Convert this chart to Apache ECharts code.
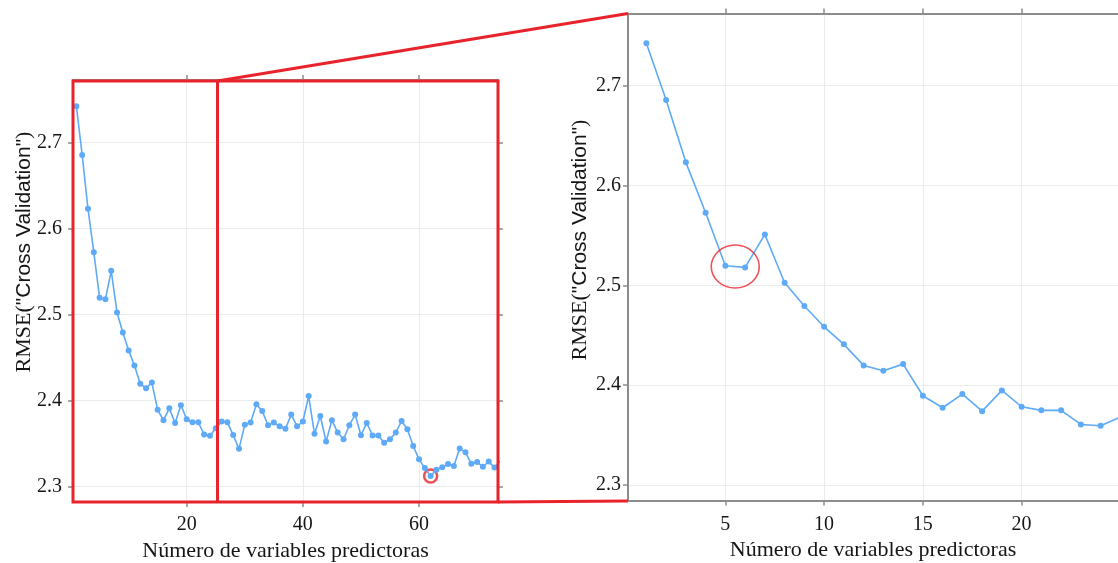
<!DOCTYPE html>
<html lang="es">
<head>
    <meta charset="UTF-8">
    <title>RMSE vs número de variables predictoras</title>
    <script src="https://cdn.jsdelivr.net/npm/echarts@6/dist/echarts.min.js"></script>
    <style>
        html, body { margin: 0; padding: 0; background: #fff; }
        #main { width: 1118px; height: 563px; }
    </style>
</head>
<body>
<div id="main"></div>
<script>
    // numero de variables (eje x) y RMSE de validacion cruzada (eje y)
    var nVars = [1, 2, 3, 4, 5, 6, 7, 8, 9, 10, 11, 12, 13, 14, 15, 16, 17, 18, 19, 20,
        21, 22, 23, 24, 25, 26, 27, 28, 29, 30, 31, 32, 33, 34, 35, 36, 37, 38, 39, 40,
        41, 42, 43, 44, 45, 46, 47, 48, 49, 50, 51, 52, 53, 54, 55, 56, 57, 58, 59, 60,
        61, 62, 63, 64, 65, 66, 67, 68, 69, 70, 71, 72, 73, 74]
    var rmse = [2.7425, 2.6857, 2.6232, 2.5727, 2.5196, 2.5180, 2.5510, 2.5026, 2.4793, 2.4585,
        2.4409, 2.4198, 2.4144, 2.4211, 2.3894, 2.3774, 2.3911, 2.3740, 2.3948, 2.3784,
        2.3748, 2.3748, 2.3607, 2.3593, 2.3680, 2.3757, 2.3750, 2.3600, 2.3440, 2.3719,
        2.3745, 2.3958, 2.3880, 2.3714, 2.3745, 2.3702, 2.3673, 2.3838, 2.3702, 2.3758,
        2.4054, 2.3615, 2.3822, 2.3526, 2.3773, 2.3629, 2.3551, 2.3715, 2.3838, 2.3598,
        2.3742, 2.3595, 2.3594, 2.3510, 2.3551, 2.3630, 2.3764, 2.3668, 2.3473, 2.3318,
        2.3216, 2.3125, 2.3196, 2.3225, 2.3264, 2.3240, 2.3445, 2.3400, 2.3266, 2.3287,
        2.3232, 2.3292, 2.3222, 2.3300]

    // marcas de los ejes
    var yTicks = [2.3, 2.4, 2.5, 2.6, 2.7]
    var xTicksFull = [20, 40, 60]
    var xTicksZoom = [5, 10, 15, 20]
    var zoomLimit = 25.3    // hasta donde llega la ampliacion (linea roja)
    var zoomPair = [4, 5]   // puntos marcados en la ampliacion (5 y 6 variables)

    var serie = nVars.map(function (n, i) { return [n, rmse[i]] })
    var iMin = rmse.indexOf(Math.min.apply(null, rmse))
    var ringZoom = [(nVars[zoomPair[0]] + nVars[zoomPair[1]]) / 2, (rmse[zoomPair[0]] + rmse[zoomPair[1]]) / 2]

    var gris = '#8c8c8c', rojo = '#e8232b', azul = '#5eaaf7', rejilla = '#ebebeb'
    var serif = 'Liberation Serif', sans = 'Liberation Sans'
    var g0 = {left: 73, top: 80, width: 425, height: 422}
    var g1 = {left: 628, top: 13.5, width: 490, height: 487}

    function eje(opts) {
        var ticks = opts.ticks
        return {
            gridIndex: opts.grid,
            type: 'value',
            position: opts.position,
            min: opts.min,
            max: opts.max,
            axisLine: {show: true, onZero: false, lineStyle: {color: gris, width: 2}},
            axisTick: {show: true, inside: false, length: 5, customValues: ticks, lineStyle: {color: gris, width: 1.5}},
            axisLabel: {
                show: !!opts.labels, customValues: ticks, margin: opts.margin || 8,
                fontFamily: serif, fontSize: 20, color: '#151515'
            },
            splitLine: {show: !!opts.split, lineStyle: {color: rejilla, width: 1}},
            name: opts.name,
            nameLocation: 'middle',
            nameGap: 31,
            nameTextStyle: {fontFamily: serif, fontSize: 22, color: '#151515'}
        }
    }

    var chart = echarts.init(document.getElementById('main'))
    var option = {
        animation: false,
        backgroundColor: '#fff',
        grid: [
            Object.assign({outerBoundsMode: 'none'}, g0),
            Object.assign({outerBoundsMode: 'none'}, g1)
        ],
        xAxis: [
            eje({grid: 0, position: 'bottom', min: 0.42, max: 73.6, ticks: xTicksFull, labels: true, split: true, margin: 13,
                name: 'Número de variables predictoras'}),
            eje({grid: 0, position: 'top', min: 0.42, max: 73.6, ticks: xTicksFull}),
            eje({grid: 1, position: 'bottom', min: 0.07, max: 24.88, ticks: xTicksZoom, labels: true, split: true, margin: 14,
                name: 'Número de variables predictoras'}),
            eje({grid: 1, position: 'top', min: 0.07, max: 24.88, ticks: xTicksZoom})
        ],
        yAxis: [
            eje({grid: 0, position: 'left', min: 2.2822, max: 2.7729, ticks: yTicks, labels: true, split: true, margin: 11}),
            eje({grid: 0, position: 'right', min: 2.2822, max: 2.7729, ticks: yTicks}),
            eje({grid: 1, position: 'left', min: 2.2845, max: 2.7723, ticks: yTicks, labels: true, split: true, margin: 7})
        ],
        series: [
            {
                type: 'line', xAxisIndex: 0, yAxisIndex: 0, data: serie, z: 3,
                symbol: 'circle', symbolSize: 6, showSymbol: true,
                lineStyle: {color: azul, width: 1.6}, itemStyle: {color: azul}
            },
            {
                type: 'scatter', xAxisIndex: 0, yAxisIndex: 0, data: [serie[iMin]], z: 2,
                symbol: 'circle', symbolSize: 13,
                itemStyle: {color: 'rgba(0,0,0,0)', borderColor: rojo, borderWidth: 2.5}
            },
            {
                type: 'line', xAxisIndex: 2, yAxisIndex: 2, data: serie, z: 3,
                symbol: 'circle', symbolSize: 6, showSymbol: true,
                lineStyle: {color: azul, width: 1.6}, itemStyle: {color: azul}
            },
            {
                type: 'scatter', xAxisIndex: 2, yAxisIndex: 2, data: [ringZoom], z: 4,
                symbol: 'circle', symbolSize: [48, 43],
                itemStyle: {color: 'rgba(0,0,0,0)', borderColor: rojo, borderWidth: 1.5}
            }
        ]
    }
    chart.setOption(option)

    // recuadro rojo de la ampliacion y titulos del eje y
    var xz = chart.convertToPixel({xAxisIndex: 0}, zoomLimit)
    var abajo = g0.top + g0.height
    var tituloY = {
        text: '{a|RMSE(}{b|"Cross Validation"}{a|)}',
        rich: {
            a: {fontFamily: serif, fontSize: 22, fill: '#151515'},
            b: {fontFamily: sans, fontSize: 21, fill: '#151515'}
        },
        align: 'center', verticalAlign: 'middle'
    }
    chart.setOption({
        graphic: [
            {type: 'rect', z: 100, shape: {x: g0.left, y: g0.top + 1, width: g0.width, height: g0.height - 1},
                style: {fill: 'none', stroke: rojo, lineWidth: 3}},
            {type: 'line', z: 100, shape: {x1: xz, y1: g0.top + 1, x2: xz, y2: abajo}, style: {stroke: rojo, lineWidth: 3}},
            {type: 'line', z: 100, shape: {x1: xz, y1: g0.top + 1, x2: g1.left, y2: g1.top}, style: {stroke: rojo, lineWidth: 3}},
            {type: 'line', z: 100, shape: {x1: g0.left + g0.width, y1: abajo, x2: g1.left, y2: abajo - 1}, style: {stroke: rojo, lineWidth: 3}},
            {type: 'text', z: 100, x: 24, y: 252, rotation: Math.PI / 2, style: tituloY},
            {type: 'text', z: 100, x: 580, y: 240, rotation: Math.PI / 2, style: tituloY}
        ]
    })
</script>
</body>
</html>
